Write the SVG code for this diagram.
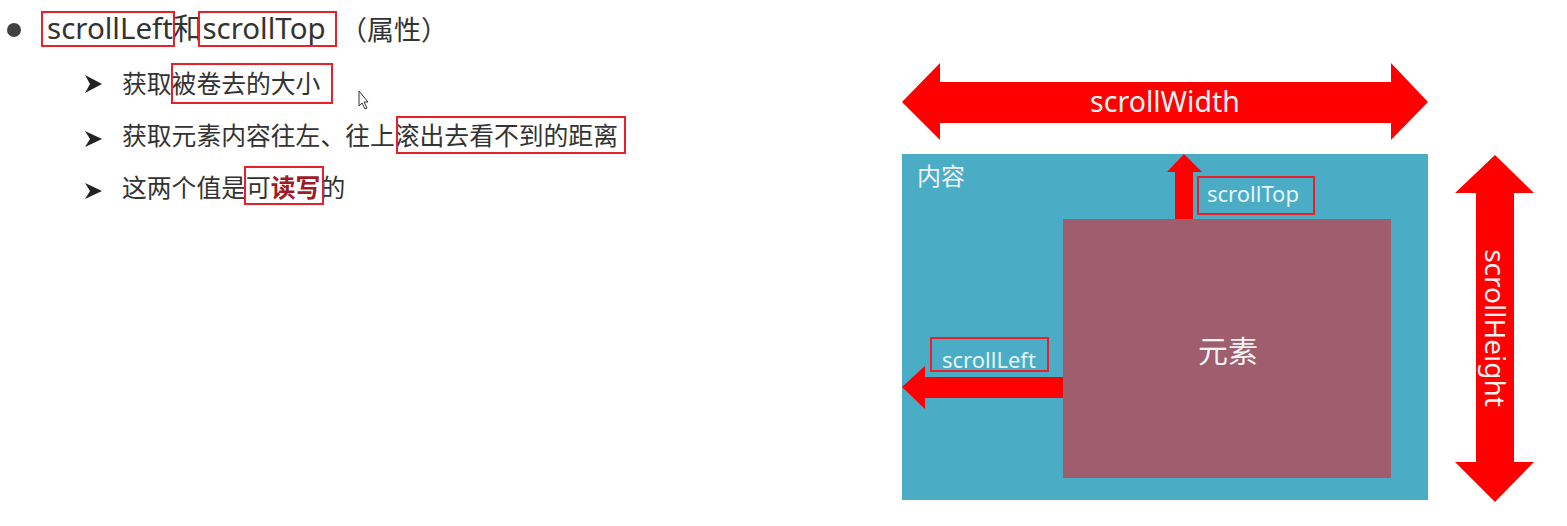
<svg xmlns="http://www.w3.org/2000/svg" width="1567" height="526" viewBox="0 0 1567 526">
<style>
.t{font-family:"Noto Sans","Noto Sans CJK SC",sans-serif;fill:#333333}
.w{font-family:"Noto Sans","Noto Sans CJK SC",sans-serif;fill:#f2f2f2}
.lb{font-family:"Noto Sans","Noto Sans CJK SC",sans-serif;fill:#e4f6f8;font-size:22px}
.box{fill:none;stroke:#e8202a;stroke-width:2}
.arrow{fill:#ff0000}
.bul{fill:#222222}
</style>
<rect width="1567" height="526" fill="#ffffff"/>
<g id="text-list">
<circle cx="14" cy="30" r="7" fill="#404040"/>
<text class="t" x="47" y="39" font-size="29.5">scrollLeft<tspan>和</tspan>scrollTop</text>
<text x="340" y="40" font-size="27" fill="#333333" font-family="'Noto Sans CJK SC',sans-serif">（属性）</text>
<rect class="box" x="42" y="12" width="132" height="34"/>
<rect class="box" x="199" y="12" width="137" height="34"/>
<polygon class="bul" points="85,75 102,84 85,93 90,84"/>
<text class="t" x="122" y="93" font-size="24.8">获取被卷去的大小</text>
<rect class="box" x="172" y="64" width="160" height="39"/>
<polygon class="bul" points="85,131 102,139 85,147 90,139"/>
<text class="t" x="122" y="145" font-size="24.8">获取元素内容往左、往上滚出去看不到的距离</text>
<rect class="box" x="397" y="117" width="228" height="36"/>
<polygon class="bul" points="85,183 102,191 85,199 90,191"/>
<text class="t" x="122" y="197" font-size="24.8">这两个值是可<tspan font-weight="bold" fill="#a01a28">读写</tspan>的</text>
<rect class="box" x="245" y="167" width="78" height="37"/>
<polygon points="359,91 359,106 362,103 365,109 367,108 364,102 368,102" fill="#ffffff" stroke="#333333" stroke-width="1"/>
</g>
<g id="content">
<rect x="902" y="154" width="526" height="346" fill="#4bacc6"/>
<text class="w" x="917" y="185" font-size="24">内容</text>
</g>
<g id="element">
<rect x="1063" y="219" width="328" height="259" fill="#9e5e6d"/>
<text class="w" x="1228" y="362" font-size="30" text-anchor="middle">元素</text>
</g>
<g id="connectors">
<polygon class="arrow" points="902,102 940,63 940,82 1391,82 1391,63 1428,102 1391,140 1391,123 940,123 940,140"/>
<polygon class="arrow" points="1184,154 1202,172 1193,172 1193,219 1175,219 1175,172 1167,172"/>
<polygon class="arrow" points="902,387 925,366 925,377 1063,377 1063,398 925,398 925,409"/>
<polygon class="arrow" points="1495,155 1534,193 1514,193 1514,462 1534,462 1495,502 1455,462 1476,462 1476,193 1455,193"/>
</g>
<g id="label-scrollWidth">
<text class="w" x="1165" y="112" font-size="28.5" text-anchor="middle">scrollWidth</text>
</g>
<g id="label-scrollHeight">
<text class="w" font-size="28" text-anchor="middle" transform="translate(1485,328) rotate(90)">scrollHeight</text>
</g>
<g id="label-scrollTop">
<rect class="box" x="1198" y="177" width="116" height="37"/>
<text class="lb" x="1207" y="202">scrollTop</text>
</g>
<g id="label-scrollLeft">
<rect class="box" x="931" y="338" width="117" height="33"/>
<text class="lb" x="942" y="368">scrollLeft</text>
</g>
</svg>
